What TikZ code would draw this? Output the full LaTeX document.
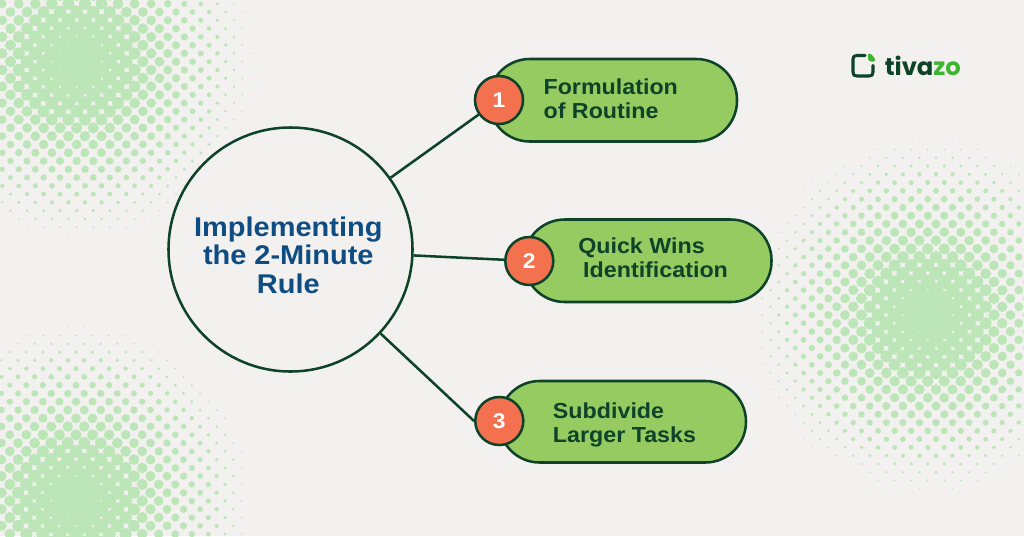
\documentclass[tikz,border=0pt]{standalone}
\usepackage{fontspec}
\setmainfont{Liberation Sans}[FakeStretch=1.07]
\newfontfamily\logofont{Poppins}
\definecolor{bgc}{HTML}{F2F1EF}
\definecolor{dotc}{HTML}{BCE5B8}
\definecolor{darkg}{HTML}{0E4329}
\definecolor{pillg}{HTML}{96CB62}
\definecolor{orangec}{HTML}{F4714F}
\definecolor{titleb}{HTML}{0F4C81}
\definecolor{logog}{HTML}{3DB52E}
\tikzset{
  x=0.75pt,y=-0.75pt,
  hub/.style={circle,draw=darkg,line width=1.9pt,minimum size=183pt,inner sep=0pt},
  title/.style={anchor=base,inner sep=0pt,align=center,text=titleb,font=\fontsize{20.3pt}{21.3pt}\selectfont\bfseries},
  pill/.style={draw=darkg,line width=1.9pt,fill=pillg,rounded corners=30.5pt},
  badge/.style={circle,draw=darkg,line width=1.9pt,fill=orangec,minimum size=36pt,inner sep=0pt,text=white,font=\fontsize{16pt}{16pt}\selectfont\bfseries},
  lab/.style={anchor=base west,inner sep=0pt,align=left,text=darkg,font=\fontsize{16.3pt}{17.8pt}\selectfont\bfseries},
  link/.style={draw=darkg,line width=1.9pt},
}
\newcommand{\halftone}[2]{%
  \foreach \i in {-24,...,24}{\foreach \j in {-24,...,24}{%
    \pgfmathparse{int(mod(abs(\i+\j),2))}%
    \ifnum\pgfmathresult=0
      \pgfmathsetmacro{\dd}{sqrt(\i*\i+\j*\j)*8.275}%
      \pgfmathsetmacro{\rr}{8.7*(1-\dd/188)}%
      \ifdim\rr pt>0.2pt
        \fill[dotc] ({#1+\i*8.275},{#2+\j*8.275}) circle[radius=\rr];
      \fi
    \fi
  }}%
}
\begin{document}
\begin{tikzpicture}
\useasboundingbox (0,0) rectangle (1024,536);
\fill[bgc] (0,0) rectangle (1024,536);
\begin{scope}
\clip (0,0) rectangle (1024,536);
\halftone{76.7}{61.7}
\halftone{76}{501}
\halftone{927.7}{315}
\end{scope}
% pills
\draw[pill] (489,59) rectangle (737,141.5);
\draw[pill] (524,219.5) rectangle (771.5,302);
\draw[pill] (499,381) rectangle (746,462.5);
\node[hub] (main) at (290.5,249.5) {};
\node[title] (maintext) at (288.3,293.3) {Implementing\\the 2-Minute\\Rule};
\node[badge] (c1) at (499,100) {1};
\node[badge] (c2) at (529.3,261) {2};
\node[badge] (c3) at (499.3,421) {3};
\draw[link] (main) -- (c1);
\draw[link] (main) -- (c2);
\draw[link] (main.-43) -- (c3.180);
\node[lab] (t1) at (543.3,118.3) {Formulation\\of Routine};
\node[lab] (t2) at (578,277.7) {Quick Wins\\\hspace*{3.7pt}Identification};
\node[lab] (t3) at (552.7,442.7) {Subdivide\\Larger Tasks};
% logo
\draw[darkg,line width=2.3pt,line cap=round,line join=round]
  (865,55.5) -- (857,55.5) .. controls (854,55.5) and (853,56.5) .. (853,59) -- (853,72) .. controls (853,75) and (854,76) .. (857,76) -- (869,76) .. controls (872,76) and (873,75) .. (873,72) -- (873,65.5);
\fill[logog,rounded corners=0.8pt] (868,53.5) -- (870.5,53.5) -- (875,58.5) -- (875,61.5) -- (870,61.5) -- (868,59.5) -- cycle;
\node[anchor=base west,inner sep=0pt,font=\logofont\fontsize{18.2pt}{18pt}\selectfont\bfseries] (logo) at (884.5,75) {\textcolor{darkg}{tiva}\textcolor{logog}{zo}};
\end{tikzpicture}
\end{document}
